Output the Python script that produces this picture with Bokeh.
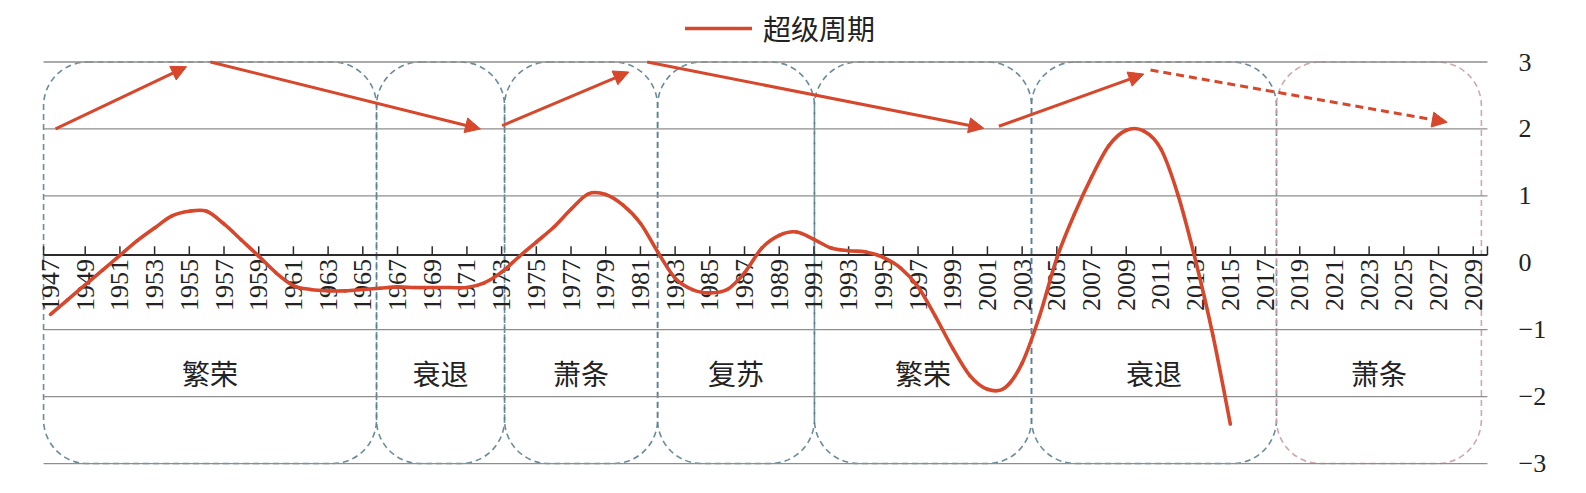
import numpy as np
from bokeh.plotting import figure
from bokeh.models import (BoxAnnotation, Arrow, NormalHead, Legend, LegendItem,
                          FixedTicker, Range1d)
from bokeh.core.properties import value
from bokeh.embed import file_html
from bokeh.resources import INLINE

# ---------------- data ----------------
YEARS = list(range(1947, 2016))
VALUES = [-0.77, -0.55, -0.33, -0.11, 0.11, 0.33, 0.52, 0.70, 0.77, 0.77,
          0.58, 0.34, 0.10, -0.15, -0.34, -0.40, -0.42, -0.42, -0.40, -0.38,
          -0.36, -0.37, -0.37, -0.37, -0.37, -0.30, -0.14, 0.09, 0.31, 0.53,
          0.80, 1.03, 1.02, 0.86, 0.59, 0.16, -0.23, -0.40, -0.45, -0.40,
          -0.15, 0.22, 0.41, 0.46, 0.35, 0.22, 0.18, 0.16, 0.08, -0.08,
          -0.36, -0.80, -1.28, -1.69, -1.89, -1.87, -1.50, -0.80, 0.07, 0.72,
          1.28, 1.75, 1.98, 1.97, 1.70, 1.00, 0.03, -1.09, -2.41]
assert len(YEARS) == len(VALUES)

TICK_LABEL_YEARS = list(range(1947, 2030, 2))
TICK_LABELS = [str(y) for y in TICK_LABEL_YEARS]

PHASE_EDGES = [1946.6, 1965.79, 1973.17, 1981.99, 1991.03, 2003.54, 2017.66, 2029.47]
PHASE_NAMES = ["繁荣", "衰退", "萧条", "复苏", "繁荣", "衰退", "萧条"]

ARROW_X0 = [1947.29, 1956.22, 1973.03, 1981.39, 2001.66, 2010.40]
ARROW_Y0 = [2.00, 3.00, 2.05, 3.00, 2.04, 2.88]
ARROW_X1 = [1954.84, 1971.78, 1980.33, 2000.79, 2010.01, 2027.50]
ARROW_Y1 = [2.93, 2.00, 2.85, 2.01, 2.82, 2.10]
ARROW_DASHED = [False, False, False, False, False, True]

GRID_VALUES = [-3, -2, -1, 1, 2, 3]
RIGHT_TICKS = [-3, -2, -1, 0, 1, 2, 3]
RIGHT_LABELS = ["−3", "−2", "−1", "0", "1", "2", "3"]
SERIES_NAME = "超级周期"

# ---------------- styles / layout ----------------
RED = "#d6472c"
TEAL = "#5a8090"
PINK = "#c99ea3"
GRID = "#8e8e8e"
TXT = "#222222"
AX0, AX1 = 1946.6, 2029.82
AXIS_Y = 0.116
TICK_LEN = 0.13
LABEL_Y = -1.65
CJK = "Noto Sans CJK SC"
SERIF = "Liberation Serif"

p = figure(width=1586, height=493,
           x_range=Range1d(1946.308, 2030.11), y_range=Range1d(-3.373, 3.919),
           output_backend="svg", toolbar_location=None,
           x_axis_location=None, y_axis_location="right",
           min_border_left=38, min_border_right=94,
           min_border_top=0, min_border_bottom=5)
p.outline_line_color = None
p.xgrid.visible = False
p.ygrid.visible = False
p.background_fill_color = "white"

# right axis
ax = p.yaxis[0]
ax.ticker = FixedTicker(ticks=RIGHT_TICKS)
ax.major_label_overrides = {t: l for t, l in zip(RIGHT_TICKS, RIGHT_LABELS)}
ax.axis_line_color = None
ax.major_tick_line_color = None
ax.minor_tick_line_color = None
ax.major_label_standoff = 20
ax.major_label_text_font = SERIF
ax.major_label_text_font_size = "26px"
ax.major_label_text_color = TXT

# phase boxes
for i, name in enumerate(PHASE_NAMES):
    col = PINK if i == len(PHASE_NAMES) - 1 else TEAL
    box = BoxAnnotation(left=PHASE_EDGES[i], right=PHASE_EDGES[i + 1],
                        bottom=-3, top=3, fill_color=None, fill_alpha=0,
                        line_color=col, line_alpha=0.9, line_width=1.6,
                        line_dash="6 4", border_radius=44, level="underlay")
    p.add_layout(box)

# gridlines
p.segment(x0=[AX0] * len(GRID_VALUES), x1=[AX1] * len(GRID_VALUES),
          y0=GRID_VALUES, y1=GRID_VALUES, line_color=GRID, line_width=1.3)

# category axis
p.segment(x0=[AX0], x1=[AX1], y0=[AXIS_Y], y1=[AXIS_Y],
          line_color="#2b2b2b", line_width=2.2)
tick_x = [AX0] + TICK_LABEL_YEARS[1:] + [AX1]
p.segment(x0=tick_x, x1=tick_x, y0=[AXIS_Y] * len(tick_x),
          y1=[AXIS_Y + TICK_LEN] * len(tick_x), line_color="#2b2b2b", line_width=1.5)
p.text(x=TICK_LABEL_YEARS, y=[AXIS_Y] * len(TICK_LABEL_YEARS), text=TICK_LABELS,
       angle=np.pi / 2, text_align="right", text_baseline="middle", y_offset=4,
       text_font=value(SERIF), text_font_size="26px", text_color=TXT)

# phase labels
mids = [(PHASE_EDGES[i] + PHASE_EDGES[i + 1]) / 2 for i in range(len(PHASE_NAMES))]
p.text(x=mids, y=[LABEL_Y] * len(mids), text=PHASE_NAMES,
       text_align="center", text_baseline="middle",
       text_font=value(CJK), text_font_size="28px", text_color=TXT)

# smooth curve through the data points (Catmull-Rom as Bezier segments)
xs = np.array(YEARS, dtype=float)
ys = np.array(VALUES, dtype=float)
xp = np.concatenate([[xs[0]], xs, [xs[-1]]])
yp = np.concatenate([[ys[0]], ys, [ys[-1]]])
n = len(xs) - 1
x0 = xs[:-1]; y0 = ys[:-1]; x1 = xs[1:]; y1 = ys[1:]
cx0 = xp[1:n + 1] + (xp[2:n + 2] - xp[0:n]) / 6.0
cy0 = yp[1:n + 1] + (yp[2:n + 2] - yp[0:n]) / 6.0
cx1 = xp[2:n + 2] - (xp[3:n + 3] - xp[1:n + 1]) / 6.0
cy1 = yp[2:n + 2] - (yp[3:n + 3] - yp[1:n + 1]) / 6.0
r = p.bezier(x0=x0, y0=y0, x1=x1, y1=y1, cx0=cx0, cy0=cy0, cx1=cx1, cy1=cy1,
             line_color=RED, line_width=3.6, line_cap="round")

# arrows
for ax0, ay0, ax1, ay1, d in zip(ARROW_X0, ARROW_Y0, ARROW_X1, ARROW_Y1, ARROW_DASHED):
    head = NormalHead(size=15, fill_color=RED, line_color=RED, line_width=1)
    p.add_layout(Arrow(x_start=ax0, y_start=ay0, x_end=ax1, y_end=ay1,
                       line_color=RED, line_width=3,
                       line_dash="8 5" if d else "solid", end=head))

# legend
legend = Legend(items=[LegendItem(label=SERIES_NAME, renderers=[r])],
                location=(647, 440), orientation="horizontal",
                glyph_width=67, glyph_height=30, label_height=30,
                label_standoff=11, label_text_font=CJK,
                label_text_font_size="28px", label_text_color=TXT,
                padding=0, margin=0, spacing=0,
                border_line_color=None, background_fill_alpha=0)
p.add_layout(legend)

open("out.html", "w").write(file_html(p, INLINE))
